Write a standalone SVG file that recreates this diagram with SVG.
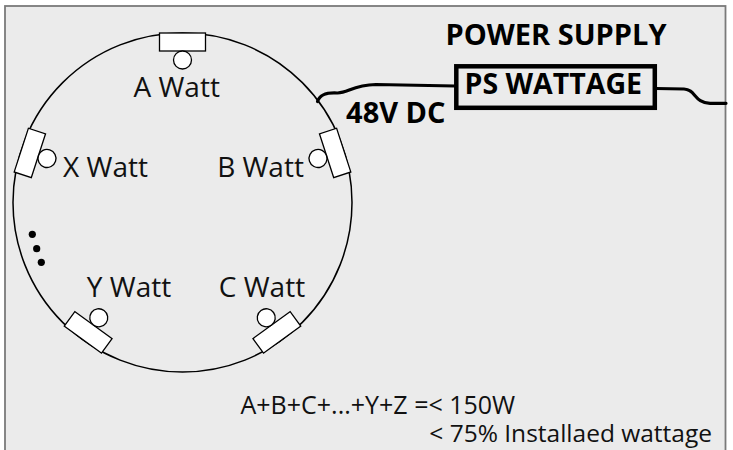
<svg xmlns="http://www.w3.org/2000/svg" width="733" height="450" viewBox="0 0 733 450">
<style>
.lbl{font-family:"Open Sans","Liberation Sans",sans-serif;font-size:28px;fill:#111;text-anchor:middle}
.bold{font-family:"Open Sans","Liberation Sans",sans-serif;font-weight:bold;font-size:28px;fill:#000;text-anchor:middle}
.note{font-family:"Open Sans","Liberation Sans",sans-serif;font-size:25px;fill:#111}
.sock{fill:#fff;stroke:#000;stroke-width:1.3}
.wire{fill:none;stroke:#000;stroke-width:3.2;stroke-linecap:round}
</style>
<defs>
<g id="socket">
<rect class="sock" x="159.5" y="33" width="46" height="18"/>
<circle class="sock" cx="182.5" cy="60" r="9"/>
</g>
</defs>
<rect x="0" y="0" width="733" height="450" fill="#fff"/>
<rect x="5" y="6" width="720.5" height="460" fill="#ebebeb" stroke="#7a7a7a" stroke-width="1.8"/>
<g id="fixture">
<circle cx="182.5" cy="202.5" r="169.5" fill="none" stroke="#000" stroke-width="1.5"/>
</g>
<g id="socket-a"><use href="#socket"/><text class="lbl" x="176.7" y="97.3">A Watt</text></g>
<g id="socket-b"><use href="#socket" transform="rotate(72 182.5 202.5)"/><text class="lbl" x="260.5" y="176.7">B Watt</text></g>
<g id="socket-c"><use href="#socket" transform="rotate(144 182.5 202.5)"/><text class="lbl" x="262" y="296.7">C Watt</text></g>
<g id="socket-y"><use href="#socket" transform="rotate(216 182.5 202.5)"/><text class="lbl" x="129" y="296.7">Y Watt</text></g>
<g id="socket-x"><use href="#socket" transform="rotate(288 182.5 202.5)"/><text class="lbl" x="105.5" y="176.7">X Watt</text></g>
<g id="ellipsis">
<circle cx="32.3" cy="234.3" r="3.6" fill="#000"/>
<circle cx="36.7" cy="248.7" r="3.6" fill="#000"/>
<circle cx="41.3" cy="262.3" r="3.6" fill="#000"/>
</g>
<g id="connectors">
<path class="wire" d="M317.5,101.5 C320,94 327,92.5 337,93 C348,93.5 352,85 376,84.5 L455,86"/>
<path class="wire" d="M656,88.5 L684,89 C696,89.5 694,103 710,103.3 L726,103.3"/>
</g>
<g id="power-supply">
<text class="bold" x="556" y="45" style="font-size:29px">POWER SUPPLY</text>
<rect x="456.3" y="66.3" width="198.5" height="41.5" fill="none" stroke="#000" stroke-width="4.5"/>
<text class="bold" x="553.3" y="94.3" style="font-size:28.5px">PS WATTAGE</text>
</g>
<g id="dc-label"><text class="bold" x="395.8" y="122.7" style="font-size:29px">48V DC</text></g>
<g id="formula">
<text class="note" x="240.5" y="414">A+B+C+...+Y+Z =&lt; 150W</text>
<text class="note" x="712" y="442" text-anchor="end" style="font-size:24.5px">&lt; 75% Installaed wattage</text>
</g>
</svg>
